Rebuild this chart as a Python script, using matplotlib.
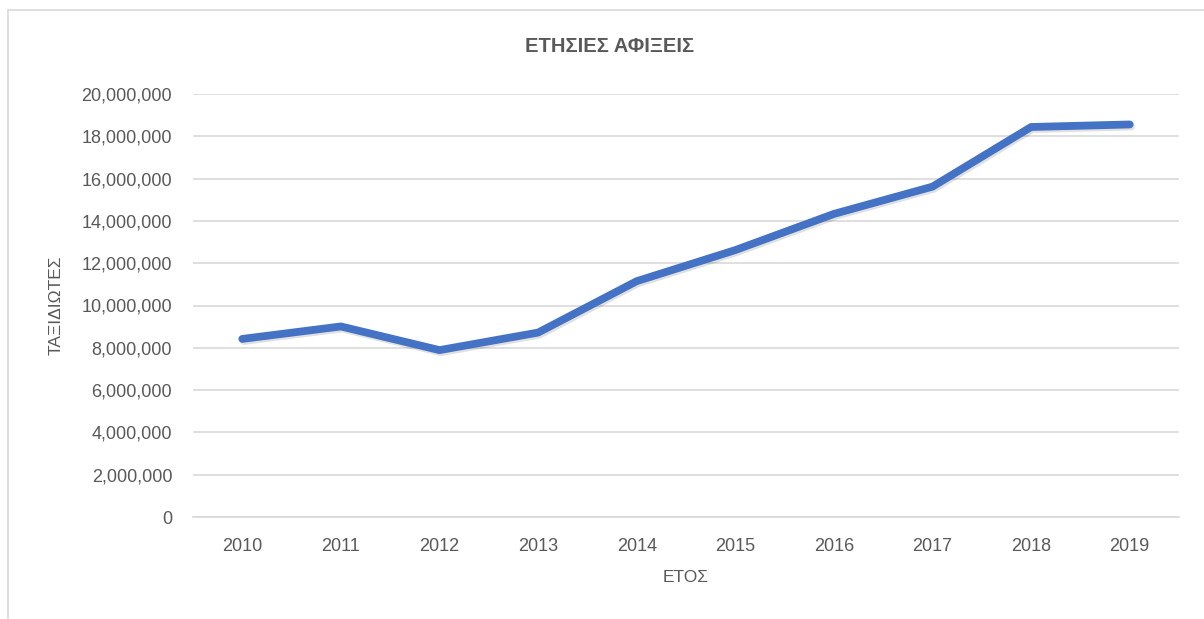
import matplotlib.pyplot as plt
import matplotlib.patches as mpatches
import matplotlib.patheffects as pe
from matplotlib.ticker import FuncFormatter, MultipleLocator

# data
years = ['2010', '2011', '2012', '2013', '2014', '2015', '2016', '2017', '2018', '2019']
travellers = [8420000, 9010000, 7890000, 8720000, 11150000, 12620000, 14330000,
              15620000, 18440000, 18560000]

TEXT = '#595959'
GRID = '#d9d9d9'
LINE = '#4472c4'

plt.rcParams['font.family'] = ['Liberation Sans', 'DejaVu Sans']

W, H = 1204, 619
fig = plt.figure(figsize=(W / 100, H / 100), dpi=100)
ax = fig.add_axes([193 / W, 1 - 517 / H, (1179 - 193) / W, (517 - 94) / H])

# chart border (runs off the right and bottom edge)
fig.patches.append(mpatches.Rectangle((8 / W, -0.1), 1.2, 1 - 10 / H + 0.1,
                                      transform=fig.transFigure, fill=False,
                                      edgecolor=GRID, lw=1.2))

x = list(range(len(years)))
ax.plot(x, travellers, color=LINE, lw=5.6, solid_capstyle='round',
        solid_joinstyle='round',
        path_effects=[pe.SimpleLineShadow(offset=(1, -1.5), shadow_color='k',
                                          alpha=0.12),
                      pe.Normal()])

ax.set_xlim(-0.5, len(years) - 0.5)
ax.set_ylim(0, 20000000)
ax.set_xticks(x)
ax.set_xticklabels(years)
ax.yaxis.set_major_locator(MultipleLocator(2000000))
ax.yaxis.set_major_formatter(FuncFormatter(lambda v, p: f'{int(v):,}'))

ax.grid(axis='y', color=GRID, lw=1.2)
ax.set_axisbelow(True)
for s in ['top', 'right', 'left']:
    ax.spines[s].set_visible(False)
ax.spines['bottom'].set_color(GRID)
ax.spines['bottom'].set_linewidth(1.2)
ax.tick_params(axis='both', length=0, labelsize=13, colors=TEXT)
ax.tick_params(axis='y', pad=15)
ax.tick_params(axis='x', pad=15)

fig.text(610 / W, 1 - 47 / H, 'ΕΤΗΣΙΕΣ ΑΦΙΞΕΙΣ', ha='center', va='center',
         fontsize=14.5, fontweight='bold', color=TEXT)
fig.text(56 / W, 1 - 305 / H, 'ΤΑΞΙΔΙΩΤΕΣ', ha='center', va='center',
         rotation=90, fontsize=12.5, color=TEXT)
fig.text(686 / W, 1 - 578 / H, 'ΕΤΟΣ', ha='center', va='center',
         fontsize=12.5, color=TEXT)

fig.savefig('out.png', dpi=100)
